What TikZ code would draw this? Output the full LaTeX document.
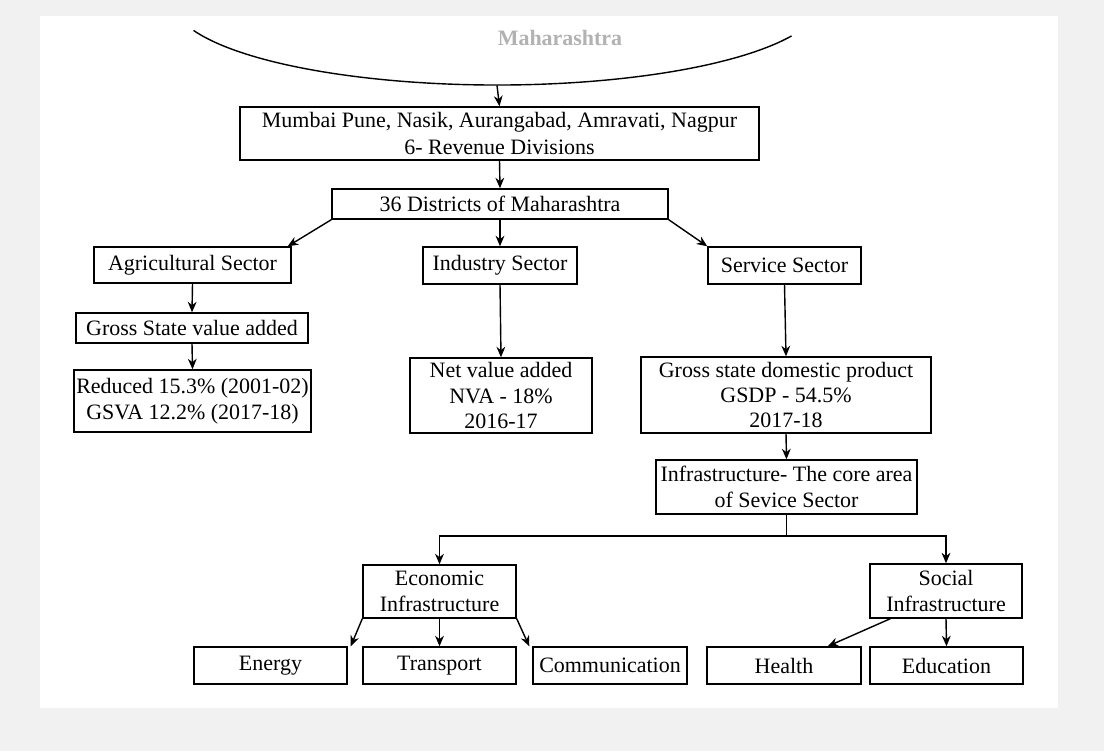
\documentclass[tikz,border=0pt]{standalone}
\usepackage{fontspec}
\setmainfont{Liberation Serif}
\usetikzlibrary{arrows.meta,shapes.geometric}
\begin{document}
\begin{tikzpicture}[x=0.02cm,y=-0.02cm,
  box/.style={draw=black, line width=0.8pt, inner sep=0pt, align=center,
    font=\fontsize{12.5}{14.5}\selectfont},
  bx/.style 2 args={box, minimum width=#1*0.02cm, minimum height=#2*0.02cm},
  arr/.style={-{Stealth[length=6pt,width=5pt]}, line width=0.8pt},
  ln/.style={line width=0.8pt}]
\useasboundingbox (0,0) rectangle (1104,751);
\clip (0,0) rectangle (1104,751);
% scanned page background
\fill[gray!11] (0,0) rectangle (1104,751);
\fill[white] (40,16) rectangle (1058,708);

% top ellipse (mostly cut off): only its lower arc is visible
\node[ellipse, minimum width=650*0.02cm, minimum height=170*0.02cm, inner sep=0pt] (top) at (497,0) {};
\draw[ln] (top.center) ++(159:325 and 85) arc [start angle=159, end angle=25, x radius=325, y radius=85];
\node[text=gray!60, font=\fontsize{12.5}{14.5}\selectfont\bfseries] (toptext) at (560,38) {Maharashtra};

% boxes
\node[bx={519}{53}, font=\fontsize{12.5}{15.5}\selectfont] (div) at (499.5,133.5) {Mumbai Pune, Nasik, Aurangabad, Amravati, Nagpur\\6- Revenue Divisions};
\node[bx={336}{30}] (dist) at (500,204) {36 Districts of Maharashtra};
\node[bx={197}{36}] (agri) at (192.5,265) {Agricultural Sector};
\node[bx={154}{37}] (ind) at (500,265.5) {Industry Sector};
\node[bx={153}{37}] (serv) at (784.5,265.5) {Service Sector};
\node[bx={232}{30}] (gsva) at (192,328) {Gross State value added};
\node[bx={237}{62}] (red) at (192.5,401) {Reduced 15.3\% (2001-02)\\GSVA 12.2\% (2017-18)};
\node[bx={182}{75}] (nva) at (501,395.5) {Net value added\\NVA - 18\%\\2016-17};
\node[bx={290}{76}] (gsdp) at (786,395) {Gross state domestic product\\GSDP - 54.5\%\\2017-18};
\node[bx={261}{54}] (infra) at (786.5,487) {Infrastructure- The core area\\of Sevice Sector};
\node[bx={153}{53}] (econ) at (439.5,591.5) {Economic\\Infrastructure};
\node[bx={152}{54}] (soc) at (946,591) {Social\\Infrastructure};
\node[bx={153}{37}] (energy) at (270.5,665.5) {Energy};
\node[bx={153}{37}] (trans) at (439.5,665.5) {Transport};
\node[bx={154}{37}] (comm) at (610,665.5) {Communication};
\node[bx={154}{37}] (health) at (784,665.5) {Health};
\node[bx={153}{37}] (edu) at (946.5,665.5) {Education};

% connectors
\draw[arr] (top.south) -- (div.north);
\draw[arr] (div.south) -- (dist.north);
\draw[arr] (dist.south west) -- ([xshift=-4*0.02cm]agri.north east);
\draw[arr] (dist.south) -- (ind.north);
\draw[arr] (dist.south east) -- (serv.north west);
\draw[arr] (agri.south) -- (gsva.north);
\draw[arr] (gsva.south) -- (red.north);
\draw[arr] (ind.south) -- (nva.north);
\draw[arr] (serv.south) -- (gsdp.north);
\draw[arr] (gsdp.south) -- (infra.north);
\coordinate (br) at (786.5,536);
\draw[ln] (infra.south) -- (br);
\draw[arr] (br) -| (econ.north);
\draw[arr] (br) -| (soc.north);
\draw[arr] (econ.south west) -- ([xshift=3*0.02cm]energy.north east);
\draw[arr] (econ.south) -- (trans.north);
\draw[arr] (econ.south east) -- ([xshift=-3*0.02cm]comm.north west);
\draw[arr] ([xshift=21*0.02cm]soc.south west) -- ([xshift=-34*0.02cm]health.north east);
\draw[arr] (soc.south) -- (edu.north);
\end{tikzpicture}
\end{document}
